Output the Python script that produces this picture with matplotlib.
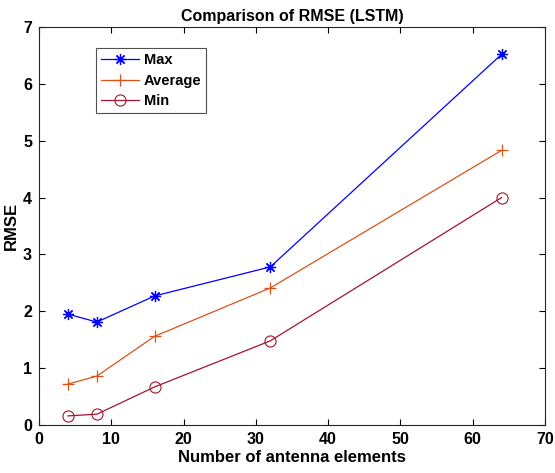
import numpy as np
import matplotlib.pyplot as plt

plt.rcParams['font.family'] = ['Liberation Sans', 'DejaVu Sans']
plt.rcParams['font.weight'] = 'bold'

# antenna elements and RMSE results
antennas = [4, 8, 16, 32, 64]
rmse_max = [1.95, 1.81, 2.27, 2.78, 6.52]
rmse_avg = [0.72, 0.86, 1.56, 2.41, 4.83]
rmse_min = [0.16, 0.19, 0.67, 1.48, 4.00]

fig = plt.figure(figsize=(5.55, 4.73), dpi=100)
ax = fig.add_axes([0.0703, 0.1015, 0.9117, 0.8415])

# (8, 2, 0) -> eight-armed asterisk like matlab's '*'
ax.plot(antennas, rmse_max, '-', marker=(8, 2, 0), color=(0, 0, 1), lw=0.9, ms=8, mew=0.9,
        label='Max')
ax.plot(antennas, rmse_avg, '-+', color=(0.85, 0.325, 0.098), lw=0.9, ms=9, mew=0.9, label='Average')
ax.plot(antennas, rmse_min, '-o', color=(0.635, 0.078, 0.184), lw=0.9, ms=8, mew=0.8,
        mfc='none', label='Min')

ax.set_xlim(0, 70)
ax.set_ylim(0, 7)
ax.set_xticks(np.arange(0, 71, 10))
ax.set_yticks(np.arange(0, 8, 1))
ax.tick_params(direction='in', top=True, right=True, labelsize=11.5, length=4, width=0.8, pad=5)
for s in ax.spines.values():
    s.set_linewidth(0.8)
    s.set_color('#262626')

ax.set_title('Comparison of RMSE (LSTM)', fontsize=11.5, fontweight='bold', pad=4)
ax.set_xlabel('Number of antenna elements', fontsize=12, fontweight='bold', labelpad=2)
ax.set_ylabel('RMSE', fontsize=12, fontweight='bold', labelpad=3)

leg = ax.legend(loc='upper left', bbox_to_anchor=(0.113, 0.947), fancybox=False,
                edgecolor='#262626', fontsize=10.5, handlelength=2.6,
                borderpad=0.35, labelspacing=0.45, handletextpad=0.3, borderaxespad=0)
leg.get_frame().set_linewidth(0.8)

fig.savefig('out.png', dpi=100)
